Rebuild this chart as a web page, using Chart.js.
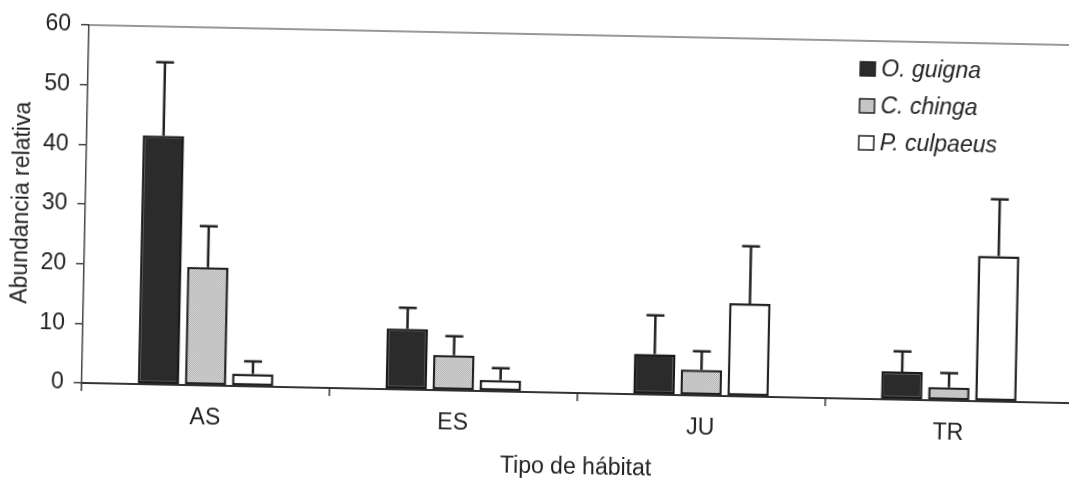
<!DOCTYPE html>
<html>
<head>
<meta charset="utf-8">
<script src="https://cdn.jsdelivr.net/npm/chart.js@4"></script>
<style>
    html, body { margin: 0; padding: 0; background: #fff; overflow: hidden; width: 1069px; height: 478px; }
    #chart { position: absolute; left: 0; top: 0; transform-origin: 89px 25px; transform: rotate(1.17deg); }
</style>
</head>
<body>
<canvas id="chart" width="1100" height="478"></canvas>
<script>
const habitats = ['AS', 'ES', 'JU', 'TR'];
const yTicks = [0, 10, 20, 30, 40, 50, 60];

const guigna = [41.7, 10.2, 6.8, 4.7];
const guignaErr = [12.3, 3.5, 6.5, 3.4];
const chinga = [19.8, 5.9, 4.3, 2.2];
const chingaErr = [6.9, 3.2, 3.1, 2.4];
const culpaeus = [2.1, 1.9, 15.6, 24.4];
const culpaeusErr = [2.1, 2.0, 9.6, 9.5];

const font = "'Liberation Sans', Arial, sans-serif";

// stippled grey like the scanned print
function stipple() {
    let c = document.createElement('canvas');
    c.width = 2;
    c.height = 2;
    let g = c.getContext('2d');
    g.fillStyle = '#e2e2e2';
    g.fillRect(0, 0, 2, 2);
    g.fillStyle = '#a8a8a8';
    g.fillRect(0, 0, 1, 1);
    g.fillRect(1, 1, 1, 1);
    return g.createPattern(c, 'repeat');
}

// error bars on top of each bar
const errorBars = {
    id: 'errorBars',
    afterDatasetsDraw(chart) {
        let ctx = chart.ctx;
        let y = chart.scales.y;
        chart.data.datasets.forEach((ds, i) => {
            chart.getDatasetMeta(i).data.forEach((bar, j) => {
                let top = y.getPixelForValue(ds.data[j] + ds.errors[j]);
                ctx.save();
                ctx.strokeStyle = '#222';
                ctx.lineWidth = 2.5;
                ctx.beginPath();
                ctx.moveTo(bar.x, bar.y);
                ctx.lineTo(bar.x, top);
                ctx.moveTo(bar.x - 9, top);
                ctx.lineTo(bar.x + 9, top);
                ctx.stroke();
                ctx.restore();
            });
        });
    }
};

// top frame line + legend inside the plot
const frameAndLegend = {
    id: 'frameAndLegend',
    afterDraw(chart) {
        let ctx = chart.ctx;
        let area = chart.chartArea;
        ctx.save();
        ctx.strokeStyle = '#777';
        ctx.lineWidth = 1.5;
        ctx.beginPath();
        ctx.moveTo(area.left, area.top);
        ctx.lineTo(area.right, area.top);
        ctx.stroke();

        ctx.font = "italic 23px " + font;
        ctx.textBaseline = 'middle';
        chart.data.datasets.forEach((ds, i) => {
            let cy = 53 + i * 37;
            ctx.fillStyle = ds.backgroundColor;
            ctx.fillRect(861, cy - 7, 15, 14);
            ctx.strokeStyle = '#222';
            ctx.lineWidth = 1.5;
            ctx.strokeRect(861, cy - 7, 15, 14);
            ctx.fillStyle = '#222';
            ctx.fillText(ds.label, 882, cy + 1);
        });
        ctx.restore();
    }
};

new Chart(document.getElementById('chart'), {
    type: 'bar',
    data: {
        labels: habitats,
        datasets: [
            { label: 'O. guigna', data: guigna, errors: guignaErr, backgroundColor: '#2b2b2b', borderColor: '#1a1a1a' },
            { label: 'C. chinga', data: chinga, errors: chingaErr, backgroundColor: stipple(), borderColor: '#222' },
            { label: 'P. culpaeus', data: culpaeus, errors: culpaeusErr, backgroundColor: '#ffffff', borderColor: '#222' }
        ]
    },
    options: {
        responsive: false,
        animation: false,
        layout: { padding: { top: 25, right: 20, left: 0, bottom: 0 } },
        datasets: {
            bar: {
                borderWidth: 2.5,
                borderSkipped: false,
                categoryPercentage: 0.57,
                barPercentage: 0.88
            }
        },
        plugins: {
            legend: { display: false },
            tooltip: { enabled: false }
        },
        scales: {
            x: {
                afterFit(scale) { scale.height = 95; },
                grid: { display: true, drawOnChartArea: false, tickLength: 8, color: '#333', lineWidth: 1.5 },
                border: { color: '#333', width: 2 },
                ticks: { color: '#222', font: { family: font, size: 23 }, padding: 11 },
                title: { display: true, text: 'Tipo de hábitat', color: '#222', font: { family: font, size: 23 }, padding: { top: 0, bottom: 7 } }
            },
            y: {
                min: 0,
                max: 60,
                afterFit(scale) { scale.width = 89; },
                afterBuildTicks(scale) { scale.ticks = yTicks.map(v => ({ value: v })); },
                grid: { display: true, drawOnChartArea: false, tickLength: 8, color: '#444', lineWidth: 1.5 },
                border: { color: '#444', width: 1.5 },
                ticks: { color: '#222', font: { family: font, size: 23 }, padding: 10 },
                title: { display: true, text: 'Abundancia relativa', color: '#222', font: { family: font, size: 23 }, padding: { top: 12, bottom: 0 } }
            }
        }
    },
    plugins: [errorBars, frameAndLegend]
});
</script>
</body>
</html>
